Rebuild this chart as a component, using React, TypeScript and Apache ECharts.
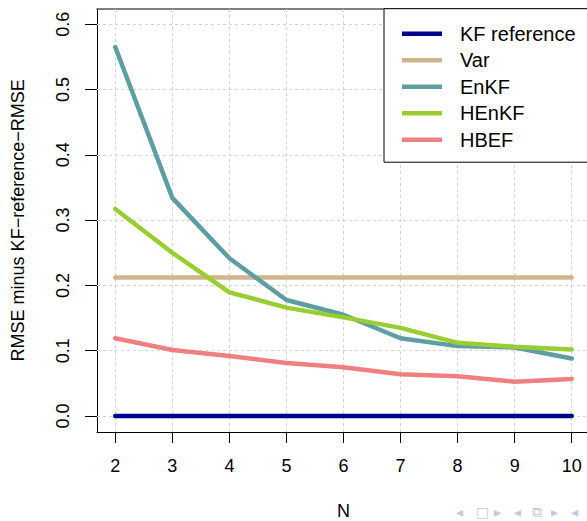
import React, { useEffect, useRef } from "react";
import * as echarts from "echarts";

const N = [2, 3, 4, 5, 6, 7, 8, 9, 10];
const KF_REFERENCE = [0, 0, 0, 0, 0, 0, 0, 0, 0];
const VAR = [0.212, 0.212, 0.212, 0.212, 0.212, 0.212, 0.212, 0.212, 0.212];
const ENKF = [0.565, 0.334, 0.2415, 0.1776, 0.155, 0.119, 0.107, 0.105, 0.088];
const HENKF = [0.317, 0.25, 0.1894, 0.166, 0.151, 0.135, 0.112, 0.106, 0.102];
const HBEF = [0.119, 0.101, 0.092, 0.081, 0.0745, 0.064, 0.061, 0.0525, 0.0567];

const SERIES_NAMES = ["KF reference", "Var", "EnKF", "HEnKF", "HBEF"];
const SERIES_VALUES = [KF_REFERENCE, VAR, ENKF, HENKF, HBEF];
const COLORS = ["#00008B", "#D2B48C", "#5F9EA0", "#9ACD32", "#F08080"];

const X_TICKS = [2, 3, 4, 5, 6, 7, 8, 9, 10];
const Y_TICKS = [0, 0.1, 0.2, 0.3, 0.4, 0.5, 0.6];

const FONT = "'Liberation Sans', Arial, Helvetica, sans-serif";

export default function App() {
  const ref = useRef<HTMLDivElement>(null);

  useEffect(() => {
    if (!ref.current) return;
    const chart = echarts.init(ref.current, undefined, { renderer: "svg" });

    const gridLines = [
      ...X_TICKS.map((x) => ({ xAxis: x })),
      ...Y_TICKS.map((y) => ({ yAxis: y })),
    ];

    const lineSeries = SERIES_NAMES.map((name, i) => ({
      name,
      type: "line",
      data: N.map((n, j) => [n, SERIES_VALUES[i][j]]),
      symbol: "none",
      showSymbol: false,
      color: COLORS[i],
      lineStyle: { color: COLORS[i], width: 4.5, cap: "round", join: "round" },
      z: 3 + i,
      silent: true,
    }));

    const navSymbols = [
      { t: "◂", x: 462 },
      { t: "□", x: 482 },
      { t: "▸", x: 500 },
      { t: "◂", x: 520 },
      { t: "⧉", x: 538 },
      { t: "▸", x: 557 },
      { t: "◂", x: 577 },
    ];

    chart.setOption({
      animation: false,
      backgroundColor: "#ffffff",
      textStyle: { fontFamily: FONT },
      grid: {
        left: 97,
        top: 8.7,
        right: -3,
        bottom: 89,
        containLabel: false,
        outerBoundsMode: "none",
      },
      legend: {
        orient: "vertical",
        left: 384,
        top: 8.7,
        data: SERIES_NAMES,
        icon: "path://M0,0L40,0L40,4.5L0,4.5Z",
        itemWidth: 40,
        itemHeight: 18,
        itemGap: 6.5,
        padding: [15, 40, 12.5, 18],
        borderColor: "#000000",
        borderWidth: 1,
        backgroundColor: "#ffffff",
        textStyle: {
          fontFamily: FONT,
          fontSize: 20,
          color: "#000000",
          padding: [0, 0, 0, 13],
        },
        z: 20,
        selectedMode: false,
      },
      xAxis: [
        {
          type: "value",
          min: 1.68,
          max: 10.32,
          position: "bottom",
          name: "N",
          nameLocation: "middle",
          nameGap: 70,
          nameTextStyle: { fontFamily: FONT, fontSize: 18, color: "#000000" },
          axisLine: { show: true, onZero: false, lineStyle: { color: "#000000", width: 1 } },
          axisTick: {
            show: true,
            length: 11,
            customValues: X_TICKS,
            lineStyle: { color: "#000000", width: 1 },
          },
          axisLabel: {
            customValues: X_TICKS,
            margin: 25,
            fontFamily: FONT,
            fontSize: 18,
            color: "#000000",
            formatter: (v: number) => String(v),
          },
          splitLine: { show: false },
        },
        {
          type: "value",
          min: 1.68,
          max: 10.32,
          position: "top",
          axisLine: { show: true, onZero: false, lineStyle: { color: "#555555", width: 1.5 } },
          axisTick: { show: false },
          axisLabel: { show: false },
          splitLine: { show: false },
        },
      ],
      yAxis: {
        type: "value",
        min: -0.0245,
        max: 0.6237,
        name: "RMSE minus KF\u2212reference\u2212RMSE",
        nameLocation: "middle",
        nameGap: 70,
        nameTextStyle: { fontFamily: FONT, fontSize: 18, color: "#000000" },
        axisLine: { show: true, onZero: false, lineStyle: { color: "#000000", width: 1 } },
        axisTick: {
          show: true,
          length: 12,
          customValues: Y_TICKS,
          lineStyle: { color: "#000000", width: 1 },
        },
        axisLabel: {
          customValues: Y_TICKS,
          rotate: 90,
          margin: 25,
          fontFamily: FONT,
          fontSize: 18,
          color: "#000000",
          formatter: (v: number) => v.toFixed(1),
        },
        splitLine: { show: false },
      },
      series: [
        {
          name: "__grid",
          type: "line",
          data: [],
          silent: true,
          z: 1,
          markLine: {
            silent: true,
            z: 1,
            symbol: "none",
            label: { show: false },
            lineStyle: { color: "#d3d3d3", width: 1, type: [3, 3] },
            data: gridLines,
            animation: false,
          },
        },
        ...lineSeries,
      ],
      graphic: navSymbols.map((s) => ({
        type: "text",
        left: s.x - 6,
        top: 505,
        style: {
          text: s.t,
          fill: "#c6c6e6",
          font: "14px 'DejaVu Sans'",
        },
        silent: true,
      })),
    });

    return () => chart.dispose();
  }, []);

  return (
    <div
      ref={ref}
      style={{ position: "fixed", left: 0, top: 0, width: 587, height: 521 }}
    />
  );
}
